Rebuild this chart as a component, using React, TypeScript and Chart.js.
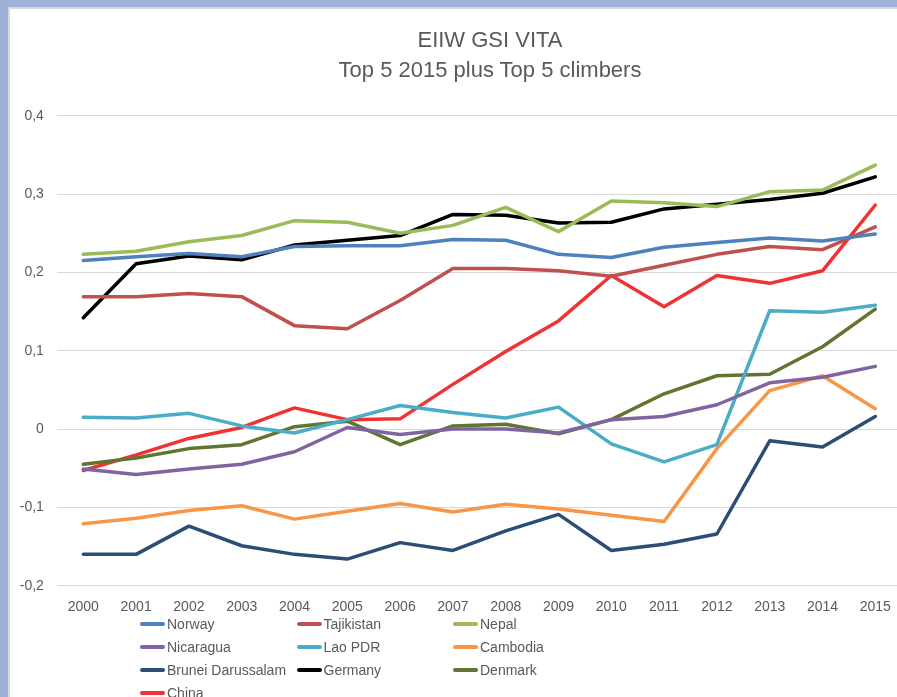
import React, { useEffect, useRef } from "react";
import { Chart, registerables } from "chart.js";

Chart.register(...registerables);

const years = ["2000","2001","2002","2003","2004","2005","2006","2007","2008","2009","2010","2011","2012","2013","2014","2015"];
const yTickLabels = ["-0,2", "-0,1", "0", "0,1", "0,2", "0,3", "0,4"];

const norway = [0.215, 0.220, 0.224, 0.220, 0.233, 0.234, 0.234, 0.242, 0.241, 0.223, 0.219, 0.232, 0.238, 0.244, 0.240, 0.249];
const tajikistan = [0.169, 0.169, 0.173, 0.169, 0.132, 0.128, 0.164, 0.205, 0.205, 0.202, 0.195, 0.209, 0.223, 0.233, 0.229, 0.258];
const nepal = [0.223, 0.227, 0.239, 0.247, 0.266, 0.264, 0.250, 0.260, 0.283, 0.252, 0.291, 0.289, 0.284, 0.303, 0.305, 0.337];
const nicaragua = [-0.051, -0.058, -0.051, -0.045, -0.029, 0.002, -0.007, 0.000, 0.000, -0.005, 0.012, 0.016, 0.031, 0.059, 0.066, 0.080];
const laoPdr = [0.015, 0.014, 0.020, 0.004, -0.005, 0.012, 0.030, 0.021, 0.014, 0.028, -0.019, -0.042, -0.020, 0.151, 0.149, 0.158];
const cambodia = [-0.121, -0.114, -0.104, -0.098, -0.115, -0.105, -0.095, -0.106, -0.096, -0.102, -0.110, -0.118, -0.025, 0.049, 0.068, 0.026];
const brunei = [-0.160, -0.160, -0.124, -0.149, -0.160, -0.166, -0.145, -0.155, -0.130, -0.109, -0.155, -0.147, -0.134, -0.015, -0.023, 0.016];
const germany = [0.142, 0.211, 0.221, 0.216, 0.235, 0.241, 0.247, 0.274, 0.273, 0.263, 0.264, 0.281, 0.287, 0.293, 0.301, 0.322];
const denmark = [-0.045, -0.037, -0.025, -0.020, 0.003, 0.010, -0.020, 0.004, 0.006, -0.006, 0.012, 0.045, 0.068, 0.070, 0.105, 0.153];
const china = [-0.053, -0.033, -0.012, 0.002, 0.027, 0.012, 0.013, 0.057, 0.099, 0.138, 0.196, 0.156, 0.196, 0.186, 0.202, 0.286];

const seriesNames = ["Norway", "Tajikistan", "Nepal", "Nicaragua", "Lao PDR", "Cambodia", "Brunei Darussalam", "Germany", "Denmark", "China"];
const seriesValues = [norway, tajikistan, nepal, nicaragua, laoPdr, cambodia, brunei, germany, denmark, china];
const seriesColors = ["#4F81BD", "#C0504D", "#9BBB59", "#8064A2", "#4BACC6", "#F79646", "#2C4D75", "#000000", "#5F7530", "#F03232"];

const FONT = "'Liberation Sans', Arial, sans-serif";
const TEXT = "#595959";

export default function App() {
  const canvasRef = useRef<HTMLCanvasElement | null>(null);

  useEffect(() => {
    const canvas = canvasRef.current;
    if (!canvas) return;
    const chart = new Chart(canvas, {
      type: "line",
      data: {
        labels: years,
        datasets: seriesNames.map((name, i) => ({
          label: name,
          data: seriesValues[i],
          borderColor: seriesColors[i],
          backgroundColor: seriesColors[i],
          borderWidth: 3.5,
          pointRadius: 0,
          tension: 0,
          borderCapStyle: "round",
          borderJoinStyle: "round",
          fill: false,
        })),
      },
      options: {
        responsive: false,
        animation: false,
        layout: { padding: { top: 107.7, right: 6.3, bottom: 71.3, left: 0 } },
        plugins: {
          legend: { display: false },
          title: { display: false },
          tooltip: { enabled: false },
        },
        scales: {
          x: {
            offset: true,
            grid: { display: false, drawTicks: false },
            border: { display: false },
            ticks: {
              color: TEXT,
              font: { family: FONT, size: 14 },
              padding: 13,
              maxRotation: 0,
              autoSkip: false,
            },
            afterFit: (scale: any) => {
              scale.height = 40;
            },
          },
          y: {
            min: -0.2,
            max: 0.4,
            grid: { color: "#D9D9D9", lineWidth: 1, drawTicks: false },
            border: { display: false },
            ticks: {
              stepSize: 0.1,
              color: TEXT,
              font: { family: FONT, size: 14 },
              padding: 13,
              callback: (_v: any, idx: number) => yTickLabels[idx],
            },
            afterFit: (scale: any) => {
              scale.width = 48.9;
            },
          },
        },
      },
    });
    return () => chart.destroy();
  }, []);

  return (
    <div
      style={{
        position: "fixed",
        left: 0,
        top: 0,
        width: 897,
        height: 697,
        overflow: "hidden",
        background: "#9DB1D9",
      }}
    >
      <div
        style={{
          position: "absolute",
          left: 8,
          top: 7,
          width: 900,
          height: 700,
          background: "#FFFFFF",
          borderLeft: "2px solid #D9D9D9",
          borderTop: "2px solid #D9D9D9",
          boxSizing: "border-box",
        }}
      />
      <canvas
        ref={canvasRef}
        width={900}
        height={689}
        style={{ position: "absolute", left: 8, top: 8, width: 900, height: 689 }}
      />
      <div
        style={{
          position: "absolute",
          left: 240,
          width: 500,
          top: 25,
          textAlign: "center",
          fontFamily: FONT,
          color: TEXT,
          fontSize: 22,
          lineHeight: "30px",
        }}
      >
        <div>EIIW GSI VITA</div>
        <div>Top 5 2015 plus Top 5 climbers</div>
      </div>
      <div
        style={{
          position: "absolute",
          left: 140,
          top: 614,
          width: 480,
          display: "grid",
          gridTemplateColumns: "156.5px 156.5px 156.5px",
          gridAutoRows: "23px",
          fontFamily: FONT,
          fontSize: 14,
          color: TEXT,
        }}
      >
        {seriesNames.map((name, i) => (
          <div key={name} style={{ display: "flex", alignItems: "center", height: 20, whiteSpace: "nowrap" }}>
            <span
              style={{
                display: "inline-block",
                width: 25,
                height: 4,
                borderRadius: 2,
                background: seriesColors[i],
                marginRight: 2,
              }}
            />
            <span>{name}</span>
          </div>
        ))}
      </div>
    </div>
  );
}
